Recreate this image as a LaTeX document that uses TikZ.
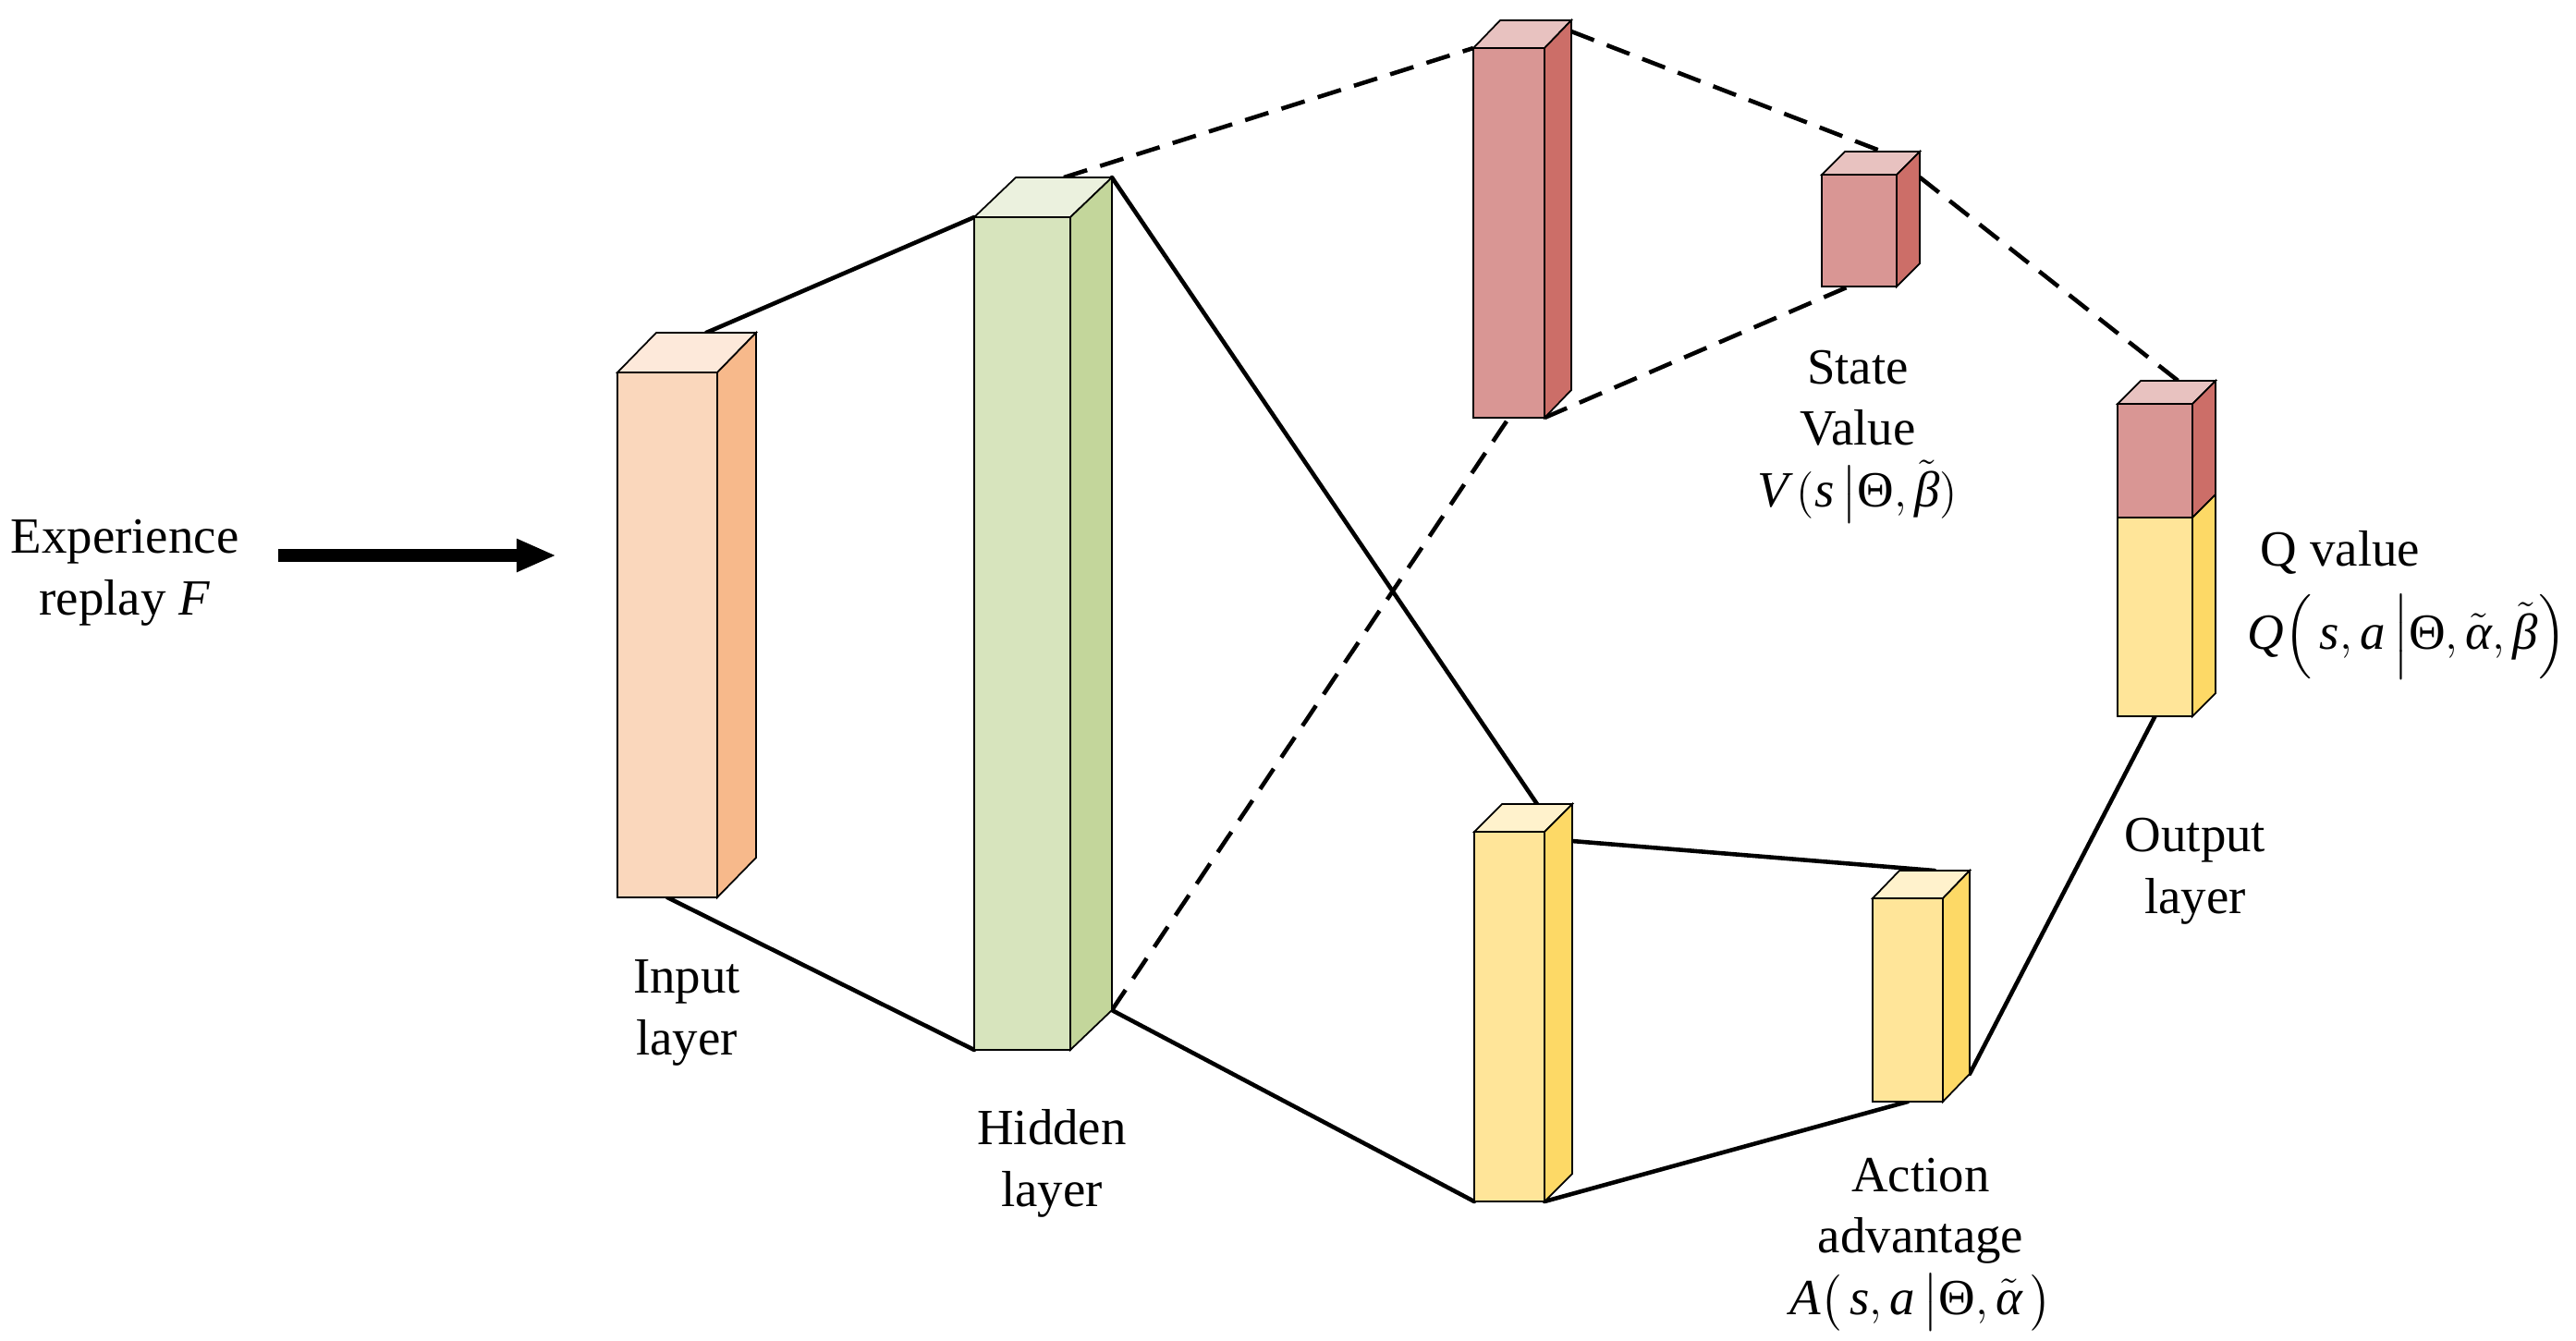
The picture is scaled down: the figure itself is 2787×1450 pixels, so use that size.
\documentclass[tikz,border=0pt]{standalone}
\usepackage{amsmath}
\usepackage{fontspec}
\setmainfont{Liberation Serif}
\usetikzlibrary{calc,arrows.meta}
\pgfdeclarelayer{bg}
\pgfsetlayers{bg,main}
\definecolor{inpF}{HTML}{FAD7BC}
\definecolor{inpT}{HTML}{FDE9DA}
\definecolor{inpS}{HTML}{F7B98B}
\definecolor{hidF}{HTML}{D7E4BD}
\definecolor{hidT}{HTML}{EBF1DE}
\definecolor{hidS}{HTML}{C3D69B}
\definecolor{redF}{HTML}{D99694}
\definecolor{redT}{HTML}{E8C2C0}
\definecolor{redS}{HTML}{CC6E68}
\definecolor{yelF}{HTML}{FFE599}
\definecolor{yelT}{HTML}{FFF2CC}
\definecolor{yelS}{HTML}{FDD966}
% name, colour scheme, x, y (front top-left), w, h, dx, dy
\newcommand{\layerbox}[8]{%
  \coordinate (#1-ftl) at (#3,#4);
  \coordinate (#1-ftr) at (#3+#5,#4);
  \coordinate (#1-fbl) at (#3,#4+#6);
  \coordinate (#1-fbr) at (#3+#5,#4+#6);
  \coordinate (#1-btl) at (#3+#7,#4-#8);
  \coordinate (#1-btr) at (#3+#5+#7,#4-#8);
  \coordinate (#1-bbr) at (#3+#5+#7,#4+#6-#8);
  \filldraw[boxline, fill=#2F] (#1-ftl) rectangle (#1-fbr);
  \filldraw[boxline, fill=#2T] (#1-ftl) -- (#1-btl) -- (#1-btr) -- (#1-ftr) -- cycle;
  \filldraw[boxline, fill=#2S] (#1-ftr) -- (#1-btr) -- (#1-bbr) -- (#1-fbr) -- cycle;
}
\begin{document}
\begin{tikzpicture}[x=0.01cm,y=-0.01cm,
  font=\fontsize{15.6}{18.8}\selectfont,
  boxline/.style={draw=black, line width=0.5pt, line join=miter},
  conn/.style={line width=1.3pt, line cap=round},
  dconn/.style={line width=1.3pt, dash pattern=on 7.5pt off 4.2pt},
  lbl/.style={align=center, anchor=base, inner sep=0pt}]
\useasboundingbox (0,0) rectangle (2787,1450);

% layer boxes
\layerbox{inp}{inp}{668}{403}{108}{568}{42}{43}
\layerbox{hid}{hid}{1054}{235}{104}{901}{45}{43}
\layerbox{rb}{red}{1594}{52}{77}{400}{29}{30}
\layerbox{sr}{red}{1971}{189}{81}{121}{25}{25}
\layerbox{yb}{yel}{1595}{900}{76}{400}{30}{30}
\layerbox{sy}{yel}{2026}{972}{76}{220}{29}{30}

% output box (two parts)
\coordinate (out-ftl) at (2291,437);
\coordinate (out-ftr) at (2372,437);
\coordinate (out-fml) at (2291,560);
\coordinate (out-fmr) at (2372,560);
\coordinate (out-fbl) at (2291,775);
\coordinate (out-fbr) at (2372,775);
\coordinate (out-btl) at (2316,412);
\coordinate (out-btr) at (2397,412);
\coordinate (out-bmr) at (2397,535);
\coordinate (out-bbr) at (2397,750);
\filldraw[boxline, fill=redF] (out-ftl) rectangle (out-fmr);
\filldraw[boxline, fill=yelF] (out-fml) rectangle (out-fbr);
\filldraw[boxline, fill=redT] (out-ftl) -- (out-btl) -- (out-btr) -- (out-ftr) -- cycle;
\filldraw[boxline, fill=redS] (out-ftr) -- (out-btr) -- (out-bmr) -- (out-fmr) -- cycle;
\filldraw[boxline, fill=yelS] (out-fmr) -- (out-bmr) -- (out-bbr) -- (out-fbr) -- cycle;

% connectors
\begin{pgfonlayer}{bg}
\draw[conn] ($(inp-btl)!0.5!(inp-btr)$) -- (hid-ftl);
\draw[conn] ($(inp-fbl)!0.5!(inp-fbr)$) -- (hid-fbl);
\draw[dconn] ($(hid-btl)!0.5!(hid-btr)$) -- (rb-ftl);
\draw[conn] (hid-btr) -- ($(yb-btl)!0.5!(yb-btr)$);
\draw[dconn] (hid-bbr) -- ($(rb-fbl)!0.5!(rb-fbr)$);
\draw[conn] (hid-bbr) -- (yb-fbl);
\draw[dconn] ($(rb-btr)!0.03!(rb-bbr)$) -- ($(sr-btl)!0.5!(sr-btr)$);
\draw[dconn] (rb-fbr) -- ($(sr-fbl)!0.36!(sr-fbr)$);
\draw[dconn] ($(sr-btr)!0.23!(sr-bbr)$) -- ($(out-btl)!0.5!(out-btr)$);
\draw[conn] ($(yb-btr)!0.1!(yb-bbr)$) -- ($(sy-btl)!0.5!(sy-btr)$);
\draw[conn] (yb-fbr) -- ($(sy-fbl)!0.5!(sy-fbr)$);
\draw[conn] (sy-bbr) -- ($(out-fbl)!0.5!(out-fbr)$);
\end{pgfonlayer}

% input arrow
\coordinate (arrS) at (301,601);
\coordinate (arrE) at (602,601);
\draw[line width=4pt, -{Triangle[length=0.43cm,width=0.33cm]}] (arrS) -- (arrE);

% labels (base anchor = baseline of the last line)
\node[lbl] (lExp) at (135,665) {Experience\\replay \textit{F}};
\node[lbl] (lIn) at (743,1141) {Input\\layer};
\node[lbl] (lHid) at (1138,1305) {Hidden\\layer};
\node[lbl] (lState) at (2010,548) {State\\Value\\$\textit{V}\,(\textit{s}\,\big|\textup{Θ},\tilde{\textit{β}})$};
\node[lbl] (lQ) at (2532,612) {Q value};
\node[lbl] (lQf) at (2604,702) {$\textit{Q}\Bigl(\,\textit{s},\textit{a}\,\Big|\textup{Θ},\tilde{\textit{α}},\tilde{\textit{β}}\Bigr)$};
\node[lbl] (lOut) at (2375,988) {Output\\layer};
\node[lbl] (lAct) at (2078,1422) {Action\\advantage\\$\textit{A}\bigl(\,\textit{s},\textit{a}\,\big|\textup{Θ},\tilde{\textit{α}}\,\bigr)$};
\end{tikzpicture}
\end{document}
